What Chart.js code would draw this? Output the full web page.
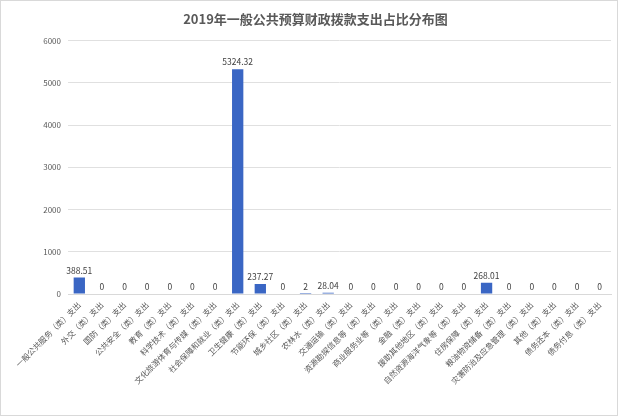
<!DOCTYPE html>
<html><head><meta charset="utf-8">
<script src="https://cdn.jsdelivr.net/npm/chart.js@4/dist/chart.umd.min.js"></script>
<style>
html,body{margin:0;padding:0;background:#fff;}
#wrap{position:relative;width:616px;height:414px;border:1px solid #d9d9d9;}
</style></head>
<body>
<div id="wrap"><canvas id="c"></canvas></div>
<script>
const titleText = "2019年一般公共预算财政拨款支出占比分布图";
const categories = [
 "一般公共服务（类）支出","外交（类）支出","国防（类）支出","公共安全（类）支出","教育（类）支出",
 "科学技术（类）支出","文化旅游体育与传媒（类）支出","社会保障和就业（类）支出","卫生健康（类）支出",
 "节能环保（类）支出","城乡社区（类）支出","农林水（类）支出","交通运输（类）支出","资源勘探信息等（类）支出",
 "商业服务业等（类）支出","金融（类）支出","援助其他地区（类）支出","自然资源海洋气象等（类）支出",
 "住房保障（类）支出","粮油物资储备（类）支出","灾害防治及应急管理（类）支出","其他（类）支出",
 "债务还本（类）支出","债务付息（类）支出"
];
const values = [388.51,0,0,0,0,0,0,5324.32,237.27,0,2,28.04,0,0,0,0,0,0,268.01,0,0,0,0,0];
const yTicks = [0,1000,2000,3000,4000,5000,6000];

const FONT = "'Noto Sans CJK SC', 'Noto Sans', sans-serif";

const labelPlugin = {
  id: 'vlabels',
  afterDatasetsDraw(chart) {
    const ctx = chart.ctx;
    const meta = chart.getDatasetMeta(0);
    ctx.save();
    ctx.font = "8.5px " + FONT;
    ctx.fillStyle = "#404040";
    ctx.textAlign = "center";
    ctx.textBaseline = "bottom";
    meta.data.forEach((bar, i) => {
      ctx.fillText(String(values[i]), bar.x, bar.y - 3);
    });
    ctx.restore();
  }
};

const ctx = document.getElementById('c').getContext('2d');
new Chart(ctx, {
  type: 'bar',
  data: {
    labels: categories,
    datasets: [{
      data: values,
      backgroundColor: (c) => {
        const el = c.element;
        if (!el || !Number.isFinite(el.x) || !Number.isFinite(el.width) || el.width <= 0) return '#3a66c4';
        const x = el.x, w = el.width;
        const g = c.chart.ctx.createLinearGradient(x - w/2, 0, x + w/2, 0);
        g.addColorStop(0, '#2c57b3');
        g.addColorStop(0.5, '#4a78d4');
        g.addColorStop(1, '#2c57b3');
        return g;
      },
      borderWidth: 0,
      barPercentage: 0.5,
      categoryPercentage: 1.0
    }]
  },
  options: {
    responsive: true,
    maintainAspectRatio: false,
    animation: false,
    layout: { padding: { left: 19, right: 6, top: 4, bottom: 23 } },
    plugins: {
      legend: { display: false },
      tooltip: { enabled: false },
      title: {
        display: true, text: titleText, color: '#595959',
        font: { family: FONT, size: 13, weight: 'bold' },
        padding: { top: 6, bottom: 14 }
      }
    },
    scales: {
      x: {
        grid: { display: false, drawTicks: false },
        border: { display: true, color: '#d9d9d9' },
        ticks: {
          color: '#595959', font: { family: FONT, size: 8 },
          autoSkip: false, minRotation: 45, maxRotation: 45, padding: 6
        }
      },
      y: {
        min: 0, max: 6000,
        afterBuildTicks: (axis) => { axis.ticks = yTicks.map(v => ({ value: v })); },
        afterFit: (axis) => { axis.width = 48; },
        grid: { color: '#e0e0e0', drawTicks: false },
        border: { display: false },
        ticks: { color: '#595959', font: { family: FONT, size: 8 }, padding: 7,
                 callback: (v) => String(v) }
      }
    }
  },
  plugins: [labelPlugin]
});
</script>
</body></html>
